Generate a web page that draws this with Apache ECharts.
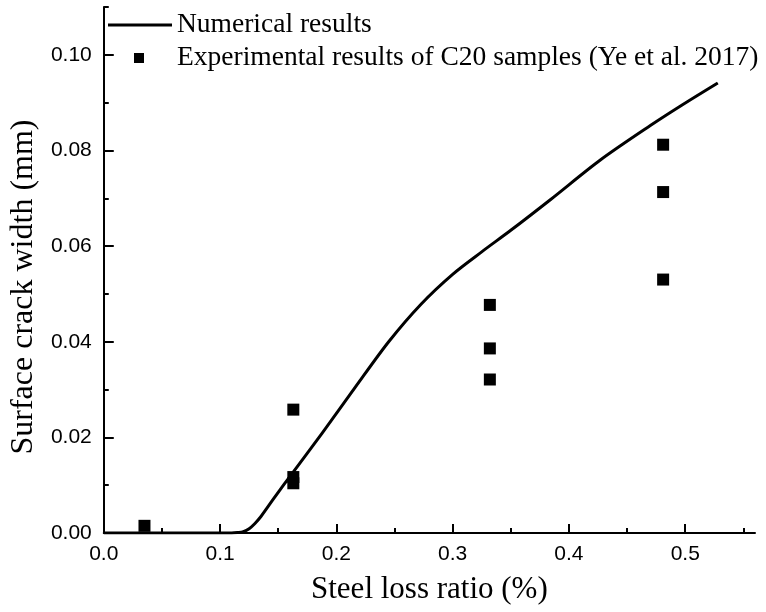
<!DOCTYPE html>
<html>
<head>
<meta charset="utf-8">
<script src="https://cdn.jsdelivr.net/npm/echarts@6/dist/echarts.min.js"></script>
<style>html,body{margin:0;padding:0;background:#fff;}#main{width:766px;height:612px;}</style>
</head>
<body>
<div id="main"></div>
<script>
// Numerical results (line)
const numX = [0, 0.05, 0.10, 0.11, 0.115, 0.12, 0.125, 0.13, 0.135, 0.14, 0.15, 0.16, 0.1875, 0.216, 0.245, 0.273, 0.30, 0.325, 0.35, 0.384, 0.427, 0.47, 0.498, 0.528];
const numY = [0, 0, 0, 0, 0.0001, 0.0003, 0.0009, 0.0020, 0.0034, 0.0051, 0.0085, 0.0118, 0.0208, 0.0304, 0.0400, 0.0479, 0.0541, 0.0588, 0.0633, 0.0697, 0.0780, 0.0852, 0.0896, 0.0941];
// Experimental results (scatter)
const expX = [0.035, 0.163, 0.163, 0.163, 0.332, 0.332, 0.332, 0.481, 0.481, 0.481];
const expY = [0.0015, 0.0258, 0.0117, 0.0104, 0.0477, 0.0386, 0.0321, 0.0812, 0.0713, 0.0530];
// Ticks
const xMajorTicks = [0, 0.1, 0.2, 0.3, 0.4, 0.5];
const xMinorTicks = [0.05, 0.15, 0.25, 0.35, 0.45, 0.55];
const yMajorTicks = [0, 0.02, 0.04, 0.06, 0.08, 0.10];
const yMinorTicks = [0.01, 0.03, 0.05, 0.07, 0.09, 0.11];
const xMax = 0.56, yMax = 0.11;
const lineName = 'Numerical results';
const expName = 'Experimental results of C20 samples (Ye et al. 2017)';

const chart = echarts.init(document.getElementById('main'));
const serif = 'Liberation Serif';
const sans = 'Liberation Sans';
chart.setOption({
  animation: false,
  backgroundColor: '#fff',
  grid: {left: 101, right: 11, top: 7, bottom: 79},
  legend: [
    {data: [{name: lineName, icon: 'rect'}], left: 103, top: 6, itemWidth: 64, itemHeight: 3,
     itemStyle: {color: '#000'},
     textStyle: {fontFamily: serif, fontSize: 27.5, color: '#000'}},
    {data: [{name: expName, icon: 'rect'}], left: 129, top: 39, itemWidth: 10, itemHeight: 10,
     textStyle: {fontFamily: serif, fontSize: 27.5, color: '#000', padding: [0, 0, 0, 28]}}
  ],
  xAxis: [
    {type: 'value', min: 0, max: xMax, splitLine: {show: false},
      name: 'Steel loss ratio (%)', nameLocation: 'middle', nameGap: 41,
      nameTextStyle: {fontFamily: serif, fontSize: 31, color: '#000'},
      axisLine: {show: true, lineStyle: {color: '#000', width: 2}},
      axisTick: {show: true, inside: true, length: 9, customValues: xMajorTicks, lineStyle: {color: '#000', width: 2}},
      axisLabel: {customValues: xMajorTicks, margin: 11, fontFamily: sans, fontSize: 21, color: '#000',
        formatter: v => v.toFixed(1)}
    },
    {type: 'value', min: 0, max: xMax, splitLine: {show: false}, position: 'bottom',
      axisLine: {show: false},
      axisTick: {show: true, inside: true, length: 5, customValues: xMinorTicks, lineStyle: {color: '#000', width: 2}},
      axisLabel: {show: false}
    }
  ],
  yAxis: [
    {type: 'value', min: 0, max: yMax, splitLine: {show: false},
      name: 'Surface crack width (mm)', nameLocation: 'middle', nameGap: 58,
      nameTextStyle: {fontFamily: serif, fontSize: 32, color: '#000', padding: [0, 34, 0, 0]},
      axisLine: {show: true, lineStyle: {color: '#000', width: 2}},
      axisTick: {show: true, inside: true, length: 10, customValues: yMajorTicks, lineStyle: {color: '#000', width: 2}},
      axisLabel: {customValues: yMajorTicks, margin: 12, fontFamily: sans, fontSize: 21, color: '#000',
        formatter: v => v.toFixed(2)}
    },
    {type: 'value', min: 0, max: yMax, splitLine: {show: false}, position: 'left',
      axisLine: {show: false},
      axisTick: {show: true, inside: true, length: 5, customValues: yMinorTicks, lineStyle: {color: '#000', width: 2}},
      axisLabel: {show: false}
    }
  ],
  series: [
    {name: lineName, type: 'line', showSymbol: false, symbol: 'none', smooth: 0.3,
     data: numX.map((x, i) => [x, numY[i]]),
     lineStyle: {color: '#000', width: 3, join: 'round'}, itemStyle: {color: '#000'}},
    {name: expName, type: 'scatter', symbol: 'rect', symbolSize: 12,
     data: expX.map((x, i) => [x, expY[i]]),
     itemStyle: {color: '#000', opacity: 1}}
  ]
});
</script>
</body>
</html>
